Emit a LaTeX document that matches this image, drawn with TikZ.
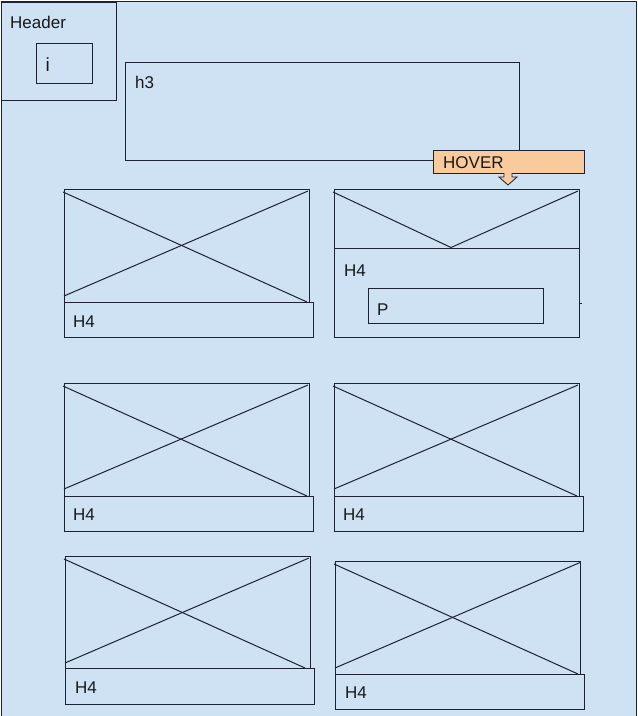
\documentclass[tikz,border=0pt]{standalone}
\usepackage{fontspec}
\setmainfont{Liberation Sans}
\definecolor{pagebg}{HTML}{CFE2F3}
\definecolor{hoverbg}{HTML}{F9CB9C}
\definecolor{wire}{HTML}{1B2233}
\begin{document}
\begin{tikzpicture}[
    x=1pt, y=-1pt,
    frame/.style={draw=wire, line width=1pt},
    panel/.style={frame, fill=pagebg},
    label/.style={anchor=base west, inner sep=0pt, font=\fontsize{17}{20}\selectfont, text=black!90},
    cross/.style={draw=wire, line width=1pt}
]
\useasboundingbox (0,0) rectangle (638,716);

% Page
\fill[pagebg] (1,1) rectangle (636,716);
\draw[frame] (1,716) -- (1,1) -- (636,1) -- (636,716);

% Header
\draw[panel] (1,2) rectangle (116,100);
\node[label] (header) at (10,28) {Header};
\draw[frame] (36,43) rectangle (92,83);
\node[label, font=\fontsize{19}{22}\selectfont] (icon) at (45.5,71.5) {i};

% h3 block
\draw[frame] (125,62) rectangle (519,160);
\node[label] (h3) at (135,88) {h3};

% Hover tag
\draw[panel, fill=hoverbg] (433,150) rectangle (584,173);
\node[label] (hover) at (443,168) {HOVER};
\draw[frame, fill=hoverbg, line width=0.8pt] (504,173) -- (504,177) -- (499,177) -- (508,185)
    -- (517,177) -- (512,177) -- (512,173);

% Card 1
\draw[frame] (64,189) rectangle (309,302);
\draw[cross] (63,192) -- (307,302);
\draw[cross] (64,296) -- (308,191);
\draw[frame] (64,302) rectangle (313,337);
\node[label] (h4a) at (73,327) {H4};

% Card 2 (hover state)
\draw[frame] (334,189) rectangle (579,337);
\draw[frame] (334,248) -- (579,248);
\draw[cross] (333,192) -- (451,247.5) -- (578,191);
\node[label] (h4b) at (344,276) {H4};
\draw[frame] (368,288) rectangle (543,323);
\node[label] (para) at (377,315) {P};
\draw[frame] (579,303.5) -- (581.5,303.5);

% Card 3
\draw[frame] (64,383) rectangle (309,496);
\draw[cross] (63,386) -- (307,496);
\draw[cross] (64,489) -- (308,385);
\draw[frame] (64,496) rectangle (313,531.5);
\node[label] (h4c) at (73,520) {H4};

% Card 4
\draw[frame] (334,383) rectangle (579,496);
\draw[cross] (333,386) -- (577,496);
\draw[cross] (334,489) -- (578,385);
\draw[frame] (334,496) rectangle (583,531.5);
\node[label] (h4d) at (343,520) {H4};

% Card 5
\draw[frame] (65,556) rectangle (310.5,668);
\draw[cross] (64,559) -- (305,668);
\draw[cross] (65,663) -- (309,558);
\draw[frame] (65,668) rectangle (314,704);
\node[label] (h4e) at (75,693) {H4};

% Card 6
\draw[frame] (335,561.5) rectangle (580.5,674);
\draw[cross] (334,564) -- (578,674);
\draw[cross] (335,668) -- (580,562.5);
\draw[frame] (335,674) rectangle (584.5,709);
\node[label] (h4f) at (345,698) {H4};

\end{tikzpicture}
\end{document}
